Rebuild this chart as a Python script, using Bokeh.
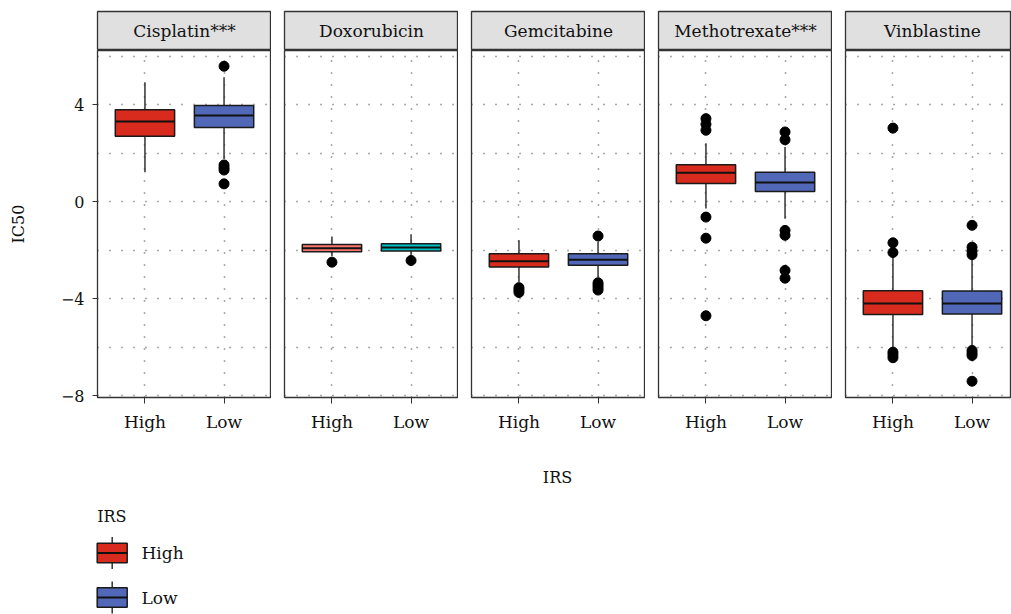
from bokeh.plotting import figure
from bokeh.layouts import row, column
from bokeh.models import Range1d, FixedTicker, ColumnDataSource
from bokeh.core.properties import value
from bokeh.embed import file_html
from bokeh.resources import INLINE

# ---------------- data ----------------
drugs = ["Cisplatin", "Doxorubicin", "Gemcitabine", "Methotrexate", "Vinblastine"]
strip_labels = ["Cisplatin***", "Doxorubicin", "Gemcitabine", "Methotrexate***", "Vinblastine"]
groups = ["High", "Low"]

high_lower = [1.21, -2.26, -3.32, -0.29, -6.07]
high_q1 = [2.69, -2.07, -2.70, 0.75, -4.66]
high_median = [3.30, -1.92, -2.46, 1.19, -4.20]
high_q3 = [3.79, -1.77, -2.15, 1.52, -3.68]
high_upper = [4.92, -1.44, -1.60, 2.41, -2.29]
high_outliers = [
    [],
    [-2.50],
    [-3.55, -3.65, -3.75],
    [3.42, 3.19, 2.94, -0.64, -1.51, -4.71],
    [3.03, -1.70, -2.10, -6.21, -6.32, -6.44],
]

low_lower = [1.76, -2.22, -3.12, -0.71, -5.93]
low_q1 = [3.05, -2.04, -2.63, 0.42, -4.64]
low_median = [3.55, -1.89, -2.40, 0.79, -4.20]
low_q3 = [3.96, -1.74, -2.15, 1.21, -3.69]
low_upper = [5.13, -1.35, -1.67, 2.25, -2.36]
low_outliers = [
    [5.58, 1.51, 1.40, 1.30, 0.73],
    [-2.43],
    [-1.42, -3.35, -3.45, -3.55, -3.65],
    [2.87, 2.55, -1.19, -1.39, -2.84, -3.16],
    [-0.98, -1.88, -2.05, -2.19, -6.14, -6.25, -6.35, -7.41],
]

high_colors = ["#D92A1E", "#F8766D", "#D92A1E", "#D92A1E", "#D92A1E"]
low_colors = ["#5068B7", "#00BFC4", "#5068B7", "#5068B7", "#5068B7"]
legend_colors = {"High": "#D92A1E", "Low": "#5068B7"}

y_ticks = [-8, -4, 0, 4]
y_minor = [-6, -2, 2, 6]

# ---------------- style ----------------
FONT = "DejaVu Serif"
TXT = "#111111"
BORDER = "#333333"
GRID = "#555555"
Y0, Y1 = -8.08, 6.23
UNIT = 174 / 2.2
BOX_W = 0.75
xpos = {"High": 1, "Low": 2}

panels = []
for i, drug in enumerate(drugs):
    first = i == 0
    last = i == len(drugs) - 1
    left = 97 if first else 13
    frame_w = 166 if last else 174
    width = left + frame_w
    xr = Range1d(0.4, 0.4 + frame_w / UNIT)

    # strip header
    h = figure(width=width, height=50, x_range=xr, y_range=Range1d(0, 1),
               output_backend="svg", toolbar_location=None,
               x_axis_location=None, y_axis_location=None,
               min_border_left=left, min_border_right=0, min_border_top=11, min_border_bottom=0)
    h.grid.visible = False
    h.background_fill_color = "#e0e0e0"
    h.outline_line_color = BORDER
    h.outline_line_width = 1.3
    h.text(x=[1.5], y=[0.5], text=[strip_labels[i]], text_align="center", text_baseline="middle",
           text_font=value(FONT), text_font_size="17px", text_color=TXT)

    # main panel
    p = figure(width=width, height=387, x_range=xr, y_range=Range1d(Y0, Y1),
               output_backend="svg", toolbar_location=None,
               y_axis_location="left" if first else None,
               min_border_left=left, min_border_right=0, min_border_top=0, min_border_bottom=40)
    p.outline_line_color = BORDER
    p.outline_line_width = 1.3

    p.xgrid.ticker = FixedTicker(ticks=[1, 2])
    p.ygrid.ticker = FixedTicker(ticks=y_ticks, minor_ticks=y_minor)
    for g in (p.xgrid, p.ygrid):
        g.grid_line_color = GRID
        g.grid_line_dash = "1 11"
        g.grid_line_width = 1.5
    p.ygrid.minor_grid_line_color = GRID
    p.ygrid.minor_grid_line_dash = "1 11"
    p.ygrid.minor_grid_line_width = 1.5

    ax = p.xaxis[0]
    ax.ticker = FixedTicker(ticks=[1, 2])
    ax.major_label_overrides = {1: "High", 2: "Low"}
    ax.major_tick_out = 6
    ax.major_tick_in = 0
    ax.minor_tick_line_color = None
    ax.axis_line_color = BORDER
    ax.major_tick_line_color = BORDER
    ax.major_label_text_font = FONT
    ax.major_label_text_font_size = "17px"
    ax.major_label_text_color = TXT
    ax.major_label_standoff = 8

    if first:
        ay = p.yaxis[0]
        ay.ticker = FixedTicker(ticks=y_ticks, minor_ticks=y_minor)
        ay.major_tick_out = 5
        ay.major_tick_in = 0
        ay.minor_tick_line_color = None
        ay.axis_line_color = BORDER
        ay.major_tick_line_color = BORDER
        ay.major_label_text_font = FONT
        ay.major_label_text_font_size = "16px"
        ay.major_label_text_color = TXT
        ay.major_label_standoff = 8
        ay.axis_label = "IC50"
        ay.axis_label_text_font = FONT
        ay.axis_label_text_font_size = "16px"
        ay.axis_label_text_font_style = "normal"
        ay.axis_label_text_color = TXT
        ay.axis_label_standoff = 30

    stats = {
        "High": (high_lower[i], high_q1[i], high_median[i], high_q3[i], high_upper[i], high_outliers[i], high_colors[i]),
        "Low": (low_lower[i], low_q1[i], low_median[i], low_q3[i], low_upper[i], low_outliers[i], low_colors[i]),
    }
    src = ColumnDataSource(dict(
        x=[xpos[g] for g in groups],
        lower=[stats[g][0] for g in groups],
        q1=[stats[g][1] for g in groups],
        med=[stats[g][2] for g in groups],
        q3=[stats[g][3] for g in groups],
        upper=[stats[g][4] for g in groups],
        color=[stats[g][6] for g in groups],
        xl=[xpos[g] - BOX_W / 2 for g in groups],
        xr=[xpos[g] + BOX_W / 2 for g in groups],
    ))
    p.segment(x0="x", y0="q3", x1="x", y1="upper", source=src, line_color=BORDER, line_width=1.5)
    p.segment(x0="x", y0="q1", x1="x", y1="lower", source=src, line_color=BORDER, line_width=1.5)
    p.vbar(x="x", bottom="q1", top="q3", width=BOX_W, source=src, fill_color="color",
           line_color="#1a1a1a", line_width=1.5)
    p.segment(x0="xl", y0="med", x1="xr", y1="med", source=src, line_color="#111111", line_width=2)

    ox, oy = [], []
    for g in groups:
        for v in stats[g][5]:
            ox.append(xpos[g])
            oy.append(v)
    p.scatter(x=ox, y=oy, size=10, fill_color="black", line_color="black")

    panels.append(column(h, p, spacing=0))

# ---------------- bottom: axis title + legend ----------------
BW, BH = 1011, 177
b = figure(width=BW, height=BH, x_range=Range1d(0, BW), y_range=Range1d(BH, 0),
           output_backend="svg", toolbar_location=None,
           x_axis_location=None, y_axis_location=None,
           min_border_left=0, min_border_right=0, min_border_top=0, min_border_bottom=0)
b.grid.visible = False
b.outline_line_color = None

b.text(x=[557], y=[40], text=["IRS"], text_align="center", text_baseline="middle",
       text_font=value(FONT), text_font_size="16px", text_color=TXT)

LX0, LX1 = 96.7, 126.7
LXC = (LX0 + LX1) / 2
b.text(x=[LX0], y=[79], text=["IRS"], text_align="left", text_baseline="middle",
       text_font=value(FONT), text_font_size="16px", text_color=TXT)
key_y = [115.5, 160.0]
for g, cy in zip(groups, key_y):
    b.segment(x0=[LXC], y0=[cy - 16], x1=[LXC], y1=[cy + 16], line_color=BORDER, line_width=1.5)
    b.quad(left=[LX0], right=[LX1], top=[cy - 9.8], bottom=[cy + 9.8],
           fill_color=legend_colors[g], line_color="#1a1a1a", line_width=1.5)
    b.segment(x0=[LX0], y0=[cy], x1=[LX1], y1=[cy], line_color="#111111", line_width=2)
    b.text(x=[141], y=[cy], text=[g], text_align="left", text_baseline="middle",
           text_font=value(FONT), text_font_size="17px", text_color=TXT)

layout = column(row(*panels, spacing=0), b, spacing=0)

open("out.html", "w").write(file_html(layout, INLINE))
